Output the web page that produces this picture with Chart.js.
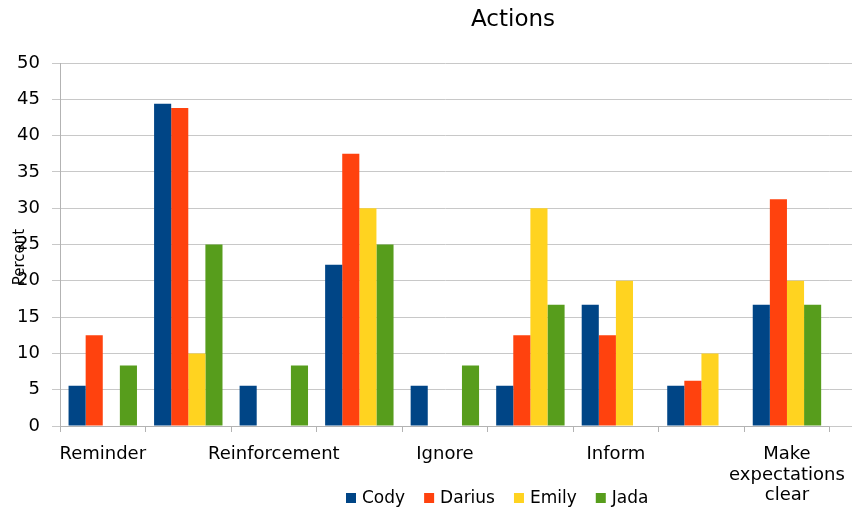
<!DOCTYPE html>
<html>
<head>
<meta charset="utf-8">
<script src="https://cdn.jsdelivr.net/npm/chart.js@4"></script>
<style>
  html, body { margin: 0; padding: 0; background: #fff; }
</style>
</head>
<body>
<canvas id="actionsChart" width="858" height="507"></canvas>
<script>
// Data
const categories = ['Reminder', '', 'Reinforcement', '', 'Ignore', '', 'Inform', '', ['Make', 'expectations', 'clear']];
const seriesNames = ['Cody', 'Darius', 'Emily', 'Jada'];
const seriesColors = ['#004586', '#ff420e', '#ffd320', '#579d1c'];
const cody = [5.56, 44.4, 5.56, 22.2, 5.56, 5.56, 16.7, 5.56, 16.7];
const darius = [12.5, 43.8, 0, 37.5, 0, 12.5, 12.5, 6.25, 31.25];
const emily = [0, 10, 0, 30, 0, 30, 20, 10, 20];
const jada = [8.33, 25, 8.33, 25, 8.33, 16.7, 0, 0, 16.7];
const yTicks = [0, 5, 10, 15, 20, 25, 30, 35, 40, 45, 50];
const chartTitle = 'Actions';
const yTitle = 'Percent';

const FONT = "'DejaVu Sans', Verdana, sans-serif";
const seriesValues = [cody, darius, emily, jada];

// Title, rotated y title and legend are drawn by hand to sit where the original puts them
const extras = {
    id: 'extras',
    beforeDatasetsDraw(chart) {
        // the original's horizontal grid runs a little past the last category
        const ctx = chart.ctx;
        const y = chart.scales.y;
        ctx.save();
        ctx.strokeStyle = '#c8c8c8';
        ctx.lineWidth = 1;
        y.ticks.forEach(t => {
            const py = Math.round(y.getPixelForValue(t.value) - 0.5) + 0.5; // same snapping as Chart.js
            ctx.beginPath();
            ctx.moveTo(chart.chartArea.right, py);
            ctx.lineTo(852, py);
            ctx.stroke();
        });
        ctx.restore();
    },
    afterDraw(chart) {
        const ctx = chart.ctx;
        ctx.save();
        ctx.fillStyle = '#000';

        // chart title
        ctx.font = '23px ' + FONT;
        ctx.textAlign = 'center';
        ctx.textBaseline = 'middle';
        ctx.fillText(chartTitle, 513, 20);

        // y axis title (overlaps the tick labels, like the original)
        ctx.save();
        ctx.translate(20, 257);
        ctx.rotate(-Math.PI / 2);
        ctx.font = '15px ' + FONT;
        ctx.fillText(yTitle, 0, 0);
        ctx.restore();

        // legend
        ctx.font = '17px ' + FONT;
        ctx.textAlign = 'left';
        let x = 346;
        const y = 498;
        seriesNames.forEach((name, i) => {
            ctx.fillStyle = seriesColors[i];
            ctx.fillRect(x, y - 5, 10, 10);
            ctx.fillStyle = '#000';
            ctx.fillText(name, x + 16, y + 1);
            x += 16 + ctx.measureText(name).width + 19;
        });
        ctx.restore();
    }
};

new Chart(document.getElementById('actionsChart'), {
    type: 'bar',
    data: {
        labels: categories,
        datasets: seriesNames.map((name, i) => ({
            label: name,
            data: seriesValues[i],
            backgroundColor: seriesColors[i],
            borderWidth: 0,
            categoryPercentage: 0.8,
            barPercentage: 1.0
        }))
    },
    options: {
        responsive: false,
        animation: false,
        devicePixelRatio: 1,
        layout: { padding: { top: 63, right: 21, left: 0, bottom: 0 } },
        plugins: {
            legend: { display: false },
            title: { display: false },
            tooltip: { enabled: false }
        },
        scales: {
            x: {
                afterFit: (scale) => { scale.height = 81; },
                border: { color: '#b3b3b3' },
                grid: {
                    drawOnChartArea: false,
                    drawTicks: true,
                    tickLength: 6,
                    color: '#b3b3b3'
                },
                ticks: {
                    autoSkip: false,
                    maxRotation: 0,
                    padding: 12,
                    color: '#000',
                    font: { family: FONT, size: 18, lineHeight: 1.15 }
                }
            },
            y: {
                min: 0,
                max: 50,
                afterFit: (scale) => { scale.width = 60; },
                afterBuildTicks: (scale) => { scale.ticks = yTicks.map(v => ({ value: v })); },
                border: { color: '#b3b3b3' },
                grid: {
                    color: '#c8c8c8',
                    tickLength: 8
                },
                ticks: {
                    padding: 12,
                    color: '#000',
                    font: { family: FONT, size: 18 }
                }
            }
        }
    },
    plugins: [extras]
});
</script>
</body>
</html>
